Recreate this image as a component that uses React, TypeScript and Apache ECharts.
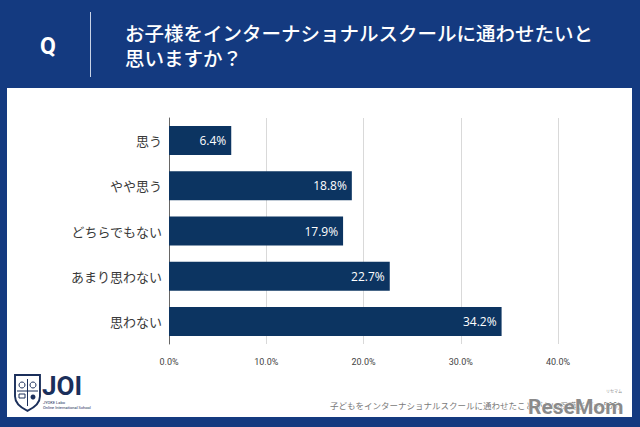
import React, { useEffect, useRef } from "react";
import * as echarts from "echarts";

const categories = ["思う", "やや思う", "どちらでもない", "あまり思わない", "思わない"];
const values = [6.4, 18.8, 17.9, 22.7, 34.2];
const axisMin = 0;
const axisMax = 40;
const axisInterval = 10;
const titleLines = ["お子様をインターナショナルスクールに通わせたいと", "思いますか？"];
const footnote = "子どもをインターナショナルスクールに通わせたことがない保護者（n=500）";

const CJK = '"Noto Sans CJK JP", "Noto Sans", sans-serif';
const NAVY = "#0c3461";

echarts.graphic.registerShape(
  "joiShield",
  echarts.graphic.extendPath("M0,0 L26,0 L26,22 Q26,31 13,37 Q0,31 0,22 Z", {})
);

export default function App() {
  const ref = useRef<HTMLDivElement>(null);
  useEffect(() => {
    if (!ref.current) return;
    const chart = echarts.init(ref.current, null, { renderer: "svg" });
    chart.setOption({
      animation: false,
      backgroundColor: "#143a80",
      grid: { left: 169, right: 82, top: 118, bottom: 83, containLabel: false },
      xAxis: {
        type: "value",
        min: axisMin,
        max: axisMax,
        interval: axisInterval,
        axisLine: { show: false },
        axisTick: { show: false },
        splitLine: { lineStyle: { color: "#d9d9d9", width: 1 } },
        axisLabel: {
          formatter: (v: number) => v.toFixed(1) + "%",
          fontSize: 9,
          color: "#444",
          margin: 13,
          fontFamily: "Roboto, sans-serif",
        },
      },
      yAxis: {
        type: "category",
        data: categories,
        inverse: true,
        axisLine: { show: true, lineStyle: { color: "#666", width: 1 } },
        axisTick: { show: false },
        axisLabel: { fontSize: 13, color: "#3a3a3a", margin: 7, fontFamily: CJK },
      },
      series: [
        {
          type: "bar",
          data: values,
          barWidth: 29,
          itemStyle: { color: NAVY },
          label: {
            show: true,
            position: "insideRight",
            distance: 5,
            color: "#fff",
            fontSize: 12,
            fontFamily: '"Open Sans", "Noto Sans", sans-serif',
            formatter: (p: any) => Number(p.value).toFixed(1) + "%",
          },
        },
      ],
      graphic: [
        { type: "rect", z: -1, shape: { x: 7, y: 88, width: 625, height: 329 }, style: { fill: "#ffffff" } },
        {
          type: "text",
          x: 48,
          y: 46,
          style: { text: "Q", fill: "#fff", font: 'bold 23px "Roboto", sans-serif', textAlign: "center", textVerticalAlign: "middle" },
        },
        { type: "line", shape: { x1: 90.5, y1: 12, x2: 90.5, y2: 77 }, style: { stroke: "#c9d3e6", lineWidth: 1 } },
        {
          type: "text",
          x: 125,
          y: 44.5,
          style: {
            text: titleLines.join("\n"),
            fill: "#fff",
            font: `500 19.5px ${CJK}`,
            lineHeight: 25,
            textVerticalAlign: "middle",
          },
        },
        // logo
        {
          type: "joiShield",
          x: 15,
          y: 375,
          scaleX: 0.96,
          scaleY: 0.97,
          style: { fill: "#fff", stroke: "#1b2f5b", lineWidth: 2 },
        },
        { type: "line", shape: { x1: 27.5, y1: 379, x2: 27.5, y2: 406 }, style: { stroke: "#1b2f5b", lineWidth: 1 } },
        { type: "line", shape: { x1: 17, y1: 391, x2: 38, y2: 391 }, style: { stroke: "#1b2f5b", lineWidth: 1 } },
        { type: "circle", shape: { cx: 22, cy: 385, r: 3 }, style: { fill: "none", stroke: "#1b2f5b", lineWidth: 1 } },
        { type: "circle", shape: { cx: 33, cy: 385, r: 3 }, style: { fill: "none", stroke: "#1b2f5b", lineWidth: 1 } },
        { type: "rect", shape: { x: 19, y: 394, width: 6, height: 4 }, style: { fill: "none", stroke: "#1b2f5b", lineWidth: 1 } },
        { type: "circle", shape: { cx: 33, cy: 397, r: 2.5 }, style: { fill: "#1b2f5b" } },
        {
          type: "text",
          x: 42,
          y: 386,
          style: { text: "JOI", fill: "#1b2f5b", font: 'bold 26px "Roboto", sans-serif', textVerticalAlign: "middle" },
        },
        {
          type: "text",
          x: 43,
          y: 404.5,
          style: {
            text: "JYOKE Labo\nOnline International School",
            fill: "#1b2f5b",
            font: '4px "Roboto", sans-serif',
            lineHeight: 5,
            textVerticalAlign: "middle",
          },
        },
        // footnote
        {
          type: "text",
          x: 330,
          y: 405,
          style: { text: footnote, fill: "#7a7a7a", font: `8.5px ${CJK}`, textVerticalAlign: "middle" },
        },
        // watermark
        {
          type: "text",
          x: 528,
          y: 407,
          style: {
            text: "ReseMom",
            fill: "#8a8a8a",
            stroke: "#ffffff",
            lineWidth: 1,
            font: 'bold 21px "Roboto", sans-serif',
            textVerticalAlign: "middle",
          },
        },
        {
          type: "text",
          x: 606,
          y: 391,
          style: { text: "リセマム", fill: "#8a8a8a", font: `4px ${CJK}`, textVerticalAlign: "middle" },
        },
      ],
    });
    return () => chart.dispose();
  }, []);
  return <div ref={ref} style={{ position: "fixed", left: 0, top: 0, width: 640, height: 427 }} />;
}
